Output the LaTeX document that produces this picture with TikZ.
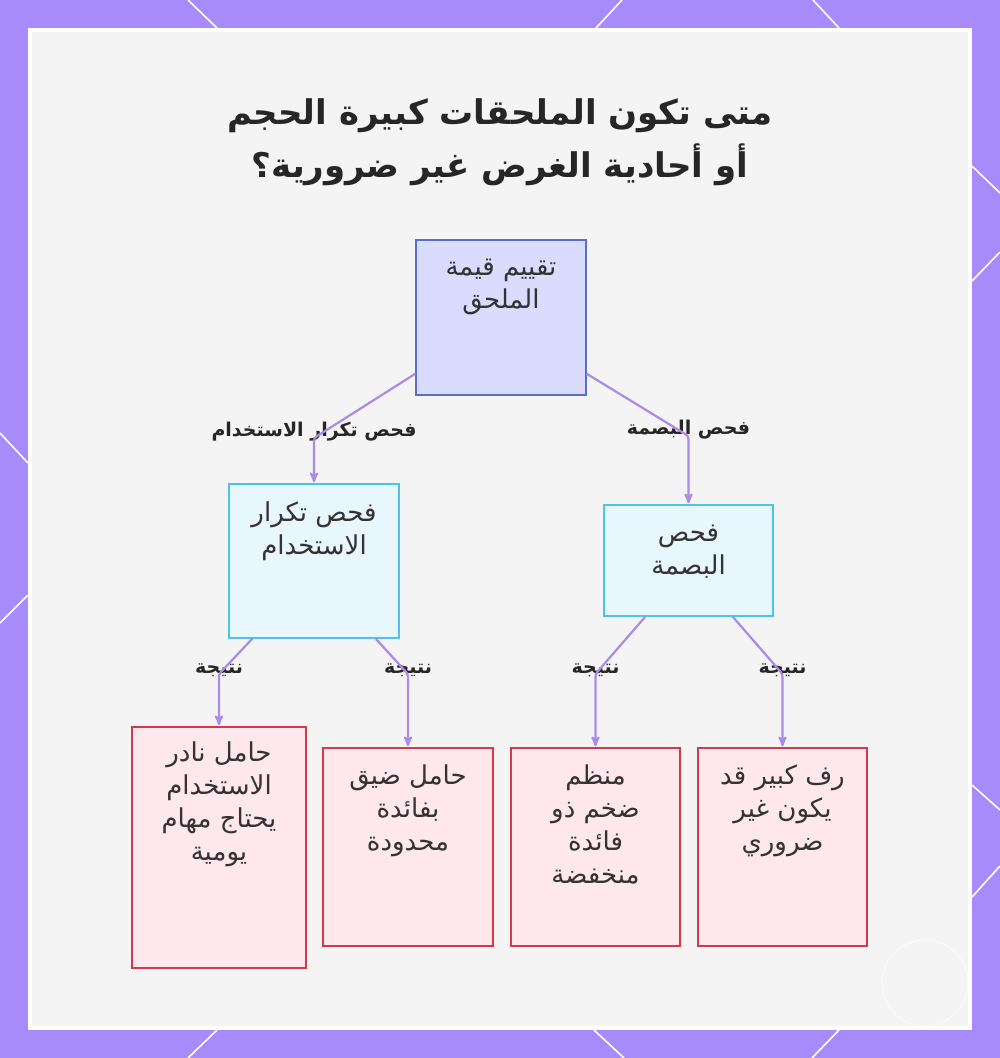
\documentclass[tikz,border=0pt]{standalone}
\usepackage{fontspec}
\newfontfamily\arabicfont[Script=Arabic]{DejaVu Sans}
\TeXXeTstate=1
\usepackage{tikz}
\usetikzlibrary{arrows,calc}

\definecolor{framepurple}{HTML}{A78BFA}
\definecolor{panelgray}{HTML}{F4F4F4}
\definecolor{inkgray}{HTML}{333333}
\definecolor{flowpurple}{HTML}{A98BE8}
\definecolor{rootfill}{HTML}{D9DCFC}
\definecolor{rootline}{HTML}{5B6DD0}
\definecolor{checkfill}{HTML}{E8F6FD}
\definecolor{checkline}{HTML}{4CC3EA}
\definecolor{leaffill}{HTML}{FFE8EC}
\definecolor{leafline}{HTML}{D23A4C}

\newcommand{\ar}[1]{\beginR #1\endR}

\begin{document}
\begin{tikzpicture}[x=1pt,y=-1pt,>=stealth',
  frameline/.style={white,line width=1.6pt},
  rootbox/.style={draw=rootline,fill=rootfill,line width=1.6pt,inner sep=0pt},
  checkbox/.style={draw=checkline,fill=checkfill,line width=1.6pt,inner sep=0pt},
  leafbox/.style={draw=leafline,fill=leaffill,line width=1.6pt,inner sep=0pt},
  boxtext/.style={anchor=north,inner sep=0pt,align=center,text=inkgray,
    font=\arabicfont\fontsize{26}{33}\selectfont},
  edgelabel/.style={inner sep=0pt,text=black!85,
    font=\arabicfont\bfseries\fontsize{19}{22}\selectfont},
  flow/.style={->,draw=flowpurple,line width=2.2pt,rounded corners=3pt,shorten >=1pt}]

\useasboundingbox (0,0) rectangle (1000,1058);
\fill[framepurple] (0,0) rectangle (1000,1058);
\draw[frameline] (188,0) -- (217,28) (622,0) -- (596,28) (813,0) -- (839,28);
\draw[frameline] (217,1030) -- (188,1058) (594,1030) -- (624,1058) (839,1030) -- (812,1058);
\draw[frameline] (0,433) -- (28,463) (28,595) -- (0,623);
\draw[frameline] (972,166) -- (1000,193) (972,281) -- (1000,252);
\draw[frameline] (972,785) -- (1000,810) (972,897) -- (1000,866);
\draw[white,line width=4pt,fill=panelgray] (30,30) rectangle (970,1028);
\draw[white,line width=1pt,opacity=0.6] (925,983) circle (43);

\node[text=black!85,align=center,font=\arabicfont\bfseries\fontsize{34}{53}\selectfont]
  (title) at (500,142) {\ar{متى تكون الملحقات كبيرة الحجم}\\\ar{أو أحادية الغرض غير ضرورية؟}};

\node[rootbox,minimum width=170pt,minimum height=155pt] (root) at (501,317.5) {};
\node[boxtext] (roottxt) at ($(root.north)+(0,20)$) {\ar{تقييم قيمة}\\\ar{الملحق}};

\node[checkbox,minimum width=170pt,minimum height=154pt] (use) at (314,561) {};
\node[boxtext] (usetxt) at ($(use.north)+(0,18)$) {\ar{فحص تكرار}\\\ar{الاستخدام}};

\node[checkbox,minimum width=169pt,minimum height=111pt] (print) at (688.5,560.5) {};
\node[boxtext] (printtxt) at ($(print.north)+(0,21)$) {\ar{فحص}\\\ar{البصمة}};

\node[leafbox,minimum width=174pt,minimum height=241pt] (r1) at (219,847.5) {};
\node[boxtext] (r1txt) at ($(r1.north)+(0,15)$) {\ar{حامل نادر}\\\ar{الاستخدام}\\\ar{يحتاج مهام}\\\ar{يومية}};

\node[leafbox,minimum width=170pt,minimum height=198pt] (r2) at (408,847) {};
\node[boxtext] (r2txt) at ($(r2.north)+(0,17)$) {\ar{حامل ضيق}\\\ar{بفائدة}\\\ar{محدودة}};

\node[leafbox,minimum width=169pt,minimum height=198pt] (r3) at (595.5,847) {};
\node[boxtext] (r3txt) at ($(r3.north)+(0,17)$) {\ar{منظم}\\\ar{ضخم ذو}\\\ar{فائدة}\\\ar{منخفضة}};

\node[leafbox,minimum width=169pt,minimum height=198pt] (r4) at (782.5,847) {};
\node[boxtext] (r4txt) at ($(r4.north)+(0,17)$) {\ar{رف كبير قد}\\\ar{يكون غير}\\\ar{ضروري}};

\node[edgelabel] (l1) at (314,432) {\ar{فحص تكرار الاستخدام}};
\node[edgelabel] (l2) at (688.5,430) {\ar{فحص البصمة}};
\node[edgelabel] (l3) at (219,670) {\ar{نتيجة}};
\node[edgelabel] (l4) at (408,670) {\ar{نتيجة}};
\node[edgelabel] (l5) at (595.5,670) {\ar{نتيجة}};
\node[edgelabel] (l6) at (782.5,670) {\ar{نتيجة}};

\draw[flow] ($(root.south west)+(0,-22)$) -- ($(l1.center)+(0,6)$) -- (use.north);
\draw[flow] ($(root.south east)+(0,-22)$) -- ($(l2.center)+(0,6)$) -- (print.north);
\draw[flow] ($(use.south west)+(24,0)$) -- ($(l3.center)+(0,4)$) -- (r1.north);
\draw[flow] ($(use.south east)+(-24,0)$) -- ($(l4.center)+(0,4)$) -- (r2.north);
\draw[flow] ($(print.south west)+(42,0)$) -- ($(l5.center)+(0,4)$) -- (r3.north);
\draw[flow] ($(print.south east)+(-41,0)$) -- ($(l6.center)+(0,4)$) -- (r4.north);

\end{tikzpicture}
\end{document}
